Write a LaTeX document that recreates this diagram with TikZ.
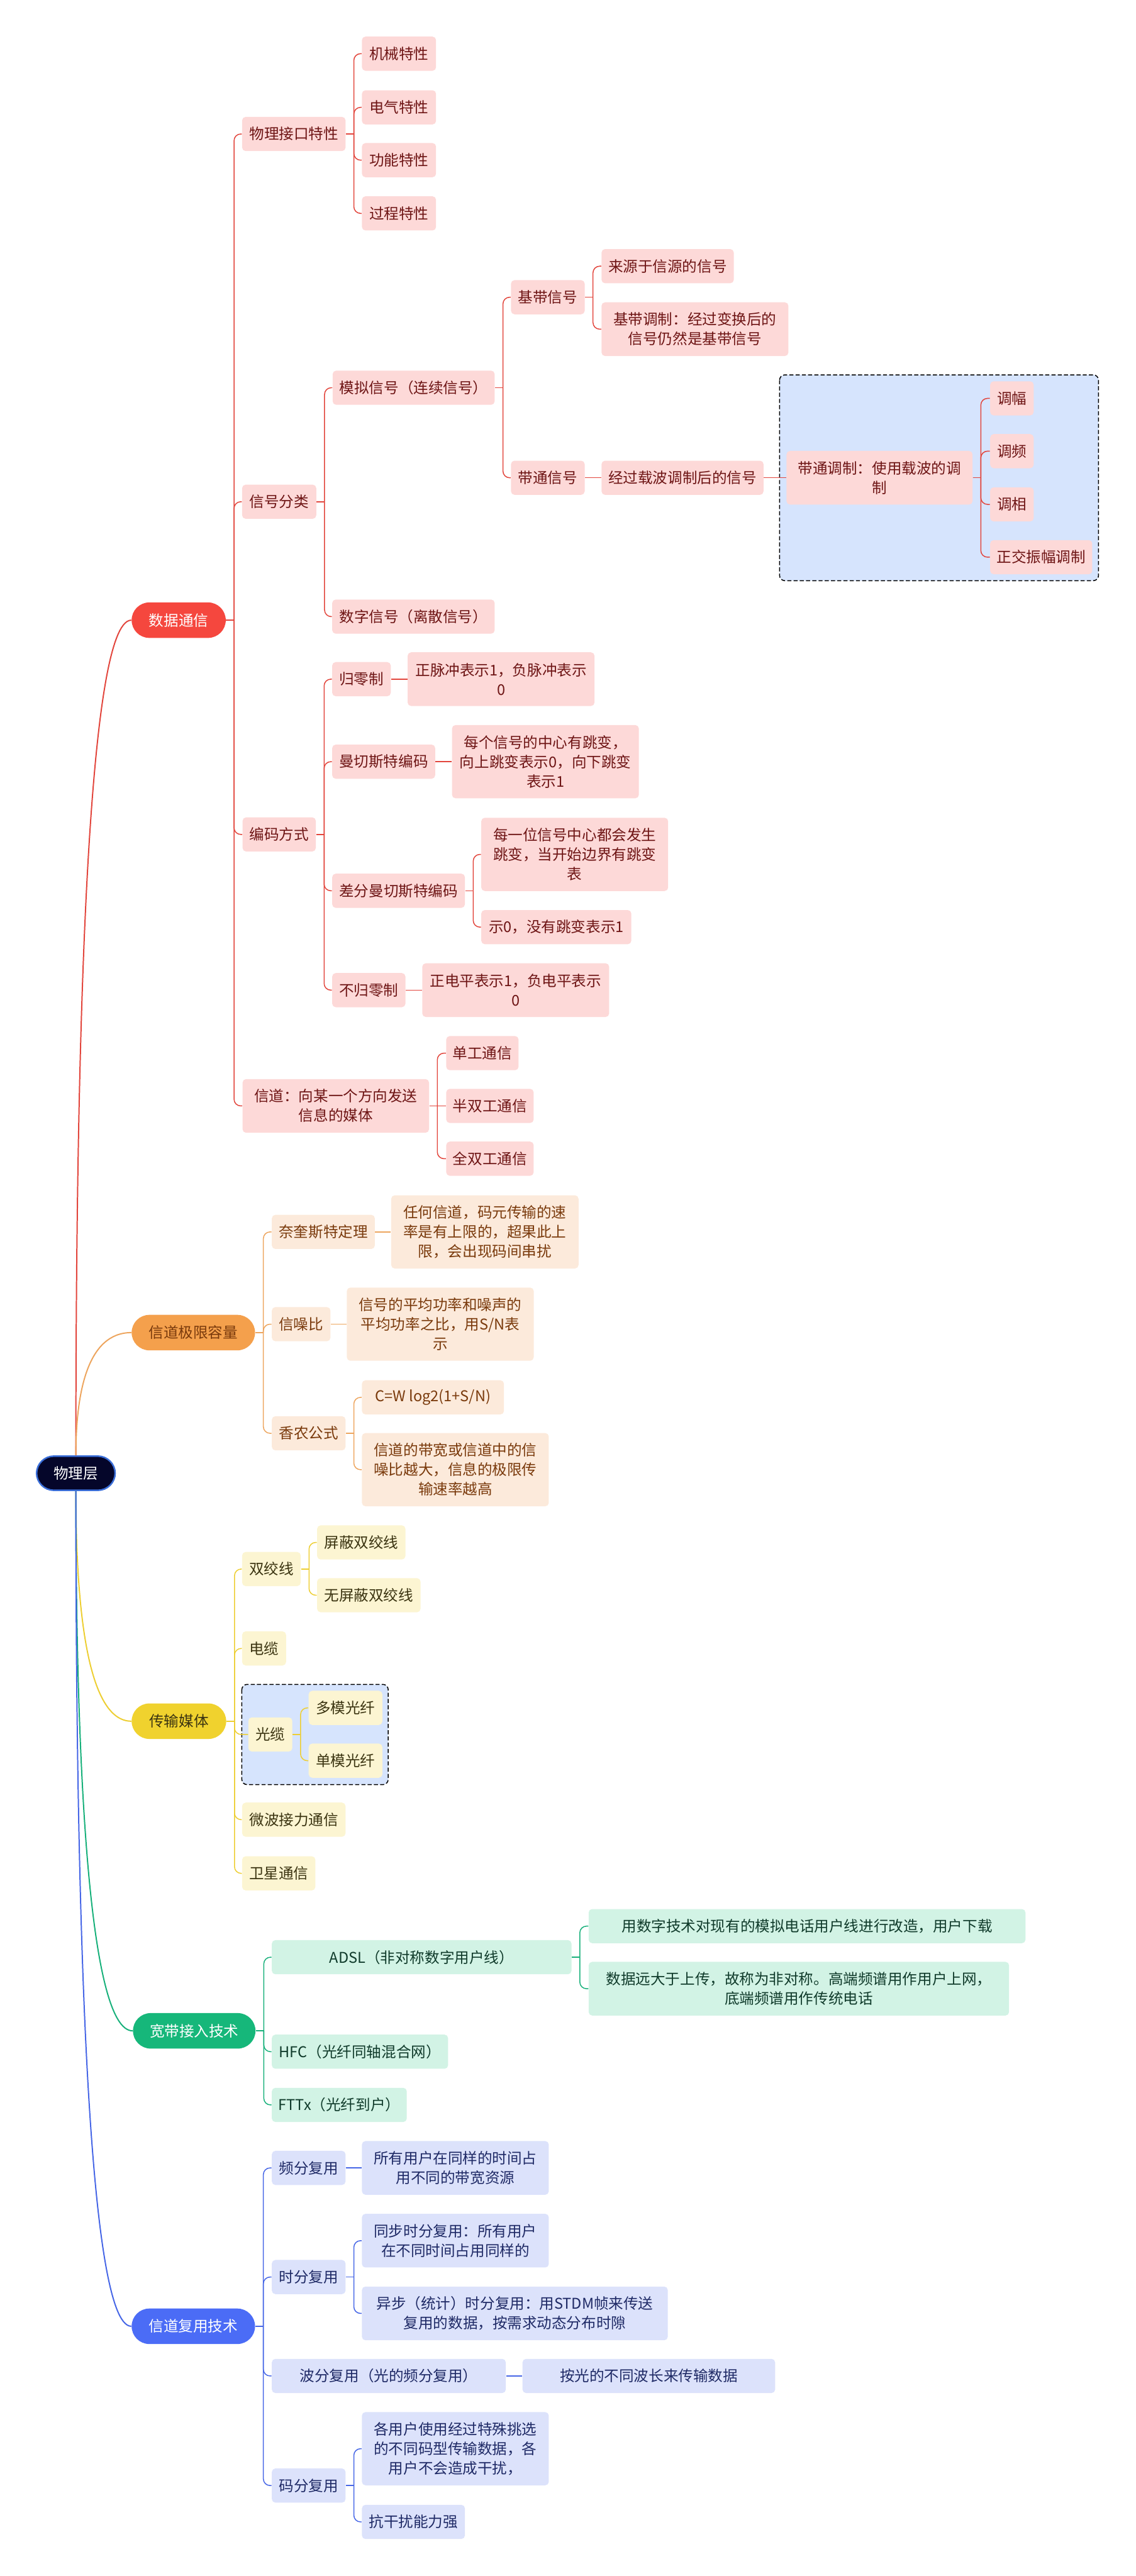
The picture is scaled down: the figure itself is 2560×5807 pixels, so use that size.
\documentclass[tikz,border=0pt]{standalone}
\usepackage{fontspec}
\setmainfont{Noto Sans CJK SC}
\usepackage{xcolor}
\usepackage{tikz}
\usetikzlibrary{positioning,calc}

\definecolor{cRedFill}{HTML}{FDD9D8}
\definecolor{cRedText}{HTML}{6E1515}
\definecolor{cRedLine}{HTML}{E2453C}
\definecolor{cRedMain}{HTML}{F5473E}
\definecolor{cOrgFill}{HTML}{FCEADB}
\definecolor{cOrgText}{HTML}{7A3A0C}
\definecolor{cOrgLine}{HTML}{EDA55E}
\definecolor{cOrgMain}{HTML}{F4A04C}
\definecolor{cYelFill}{HTML}{FCF5D2}
\definecolor{cYelText}{HTML}{3B3411}
\definecolor{cYelLine}{HTML}{EDCE32}
\definecolor{cYelMain}{HTML}{F0D22E}
\definecolor{cGrnFill}{HTML}{D2F3E5}
\definecolor{cGrnText}{HTML}{103B2B}
\definecolor{cGrnLine}{HTML}{17B07A}
\definecolor{cGrnMain}{HTML}{16B77A}
\definecolor{cBluFill}{HTML}{DCE2FB}
\definecolor{cBluText}{HTML}{1F2A66}
\definecolor{cBluLine}{HTML}{4666E6}
\definecolor{cBluMain}{HTML}{4B6CF6}
\definecolor{cRootFill}{HTML}{05062A}
\definecolor{cRootLine}{HTML}{3A6ED8}
\definecolor{cBoxFill}{HTML}{D6E4FD}

\begin{document}
\begin{tikzpicture}[x=0.01cm,y=-0.01cm,font=\fontsize{9.5}{12.5}\selectfont]
  \tikzstyle{leaf}=[rounded corners=0.08cm,align=center,anchor=west,minimum height=0.77cm,inner sep=0.1cm]
  \tikzstyle{two}=[minimum height=1.21cm]
  \tikzstyle{three}=[minimum height=1.65cm]
  \tikzstyle{redleaf}=[leaf,fill=cRedFill,text=cRedText]
  \tikzstyle{orgleaf}=[leaf,fill=cOrgFill,text=cOrgText]
  \tikzstyle{yelleaf}=[leaf,fill=cYelFill,text=cYelText]
  \tikzstyle{grnleaf}=[leaf,fill=cGrnFill,text=cGrnText]
  \tikzstyle{bluleaf}=[leaf,fill=cBluFill,text=cBluText]
  \tikzstyle{main}=[rounded corners=0.4cm,align=center,anchor=west,minimum height=0.8cm]
  \tikzstyle{rootnode}=[rounded corners=0.39cm,fill=cRootFill,draw=cRootLine,line width=1pt,text=white,minimum width=1.77cm,minimum height=0.77cm]
  \tikzstyle{link}=[line width=0.6pt,rounded corners=0.15cm]
  \tikzstyle{dbox}=[draw=black,fill=cBoxFill,line width=0.6pt,dash pattern=on 2.6pt off 1.4pt,rounded corners=0.12cm]
  \useasboundingbox (0,0) rectangle (2560,5807);

  % dashed groups
  \draw[dbox] (1757,845) rectangle (2476,1309);
  \draw[dbox] (545,3797) rectangle (875,4023);

  \node[rootnode] (root) at (171,3321) {物理层};

  % 数据通信
  \node[main,fill=cRedMain,text=white,minimum width=2.12cm] (datacomm) at (296,1398) {数据通信};
  \node[redleaf,minimum width=2.33cm] (phyif) at (545,302) {物理接口特性};
  \node[redleaf,minimum width=1.67cm] (mech) at (815,121) {机械特性};
  \node[redleaf,minimum width=1.67cm] (elec) at (815,242) {电气特性};
  \node[redleaf,minimum width=1.67cm] (func) at (815,361) {功能特性};
  \node[redleaf,minimum width=1.67cm] (proc) at (815,481) {过程特性};
  \node[redleaf,minimum width=1.67cm] (sigcls) at (545,1131) {信号分类};
  \node[redleaf,minimum width=3.65cm] (analog) at (749,874) {模拟信号（连续信号）};
  \node[redleaf,minimum width=1.66cm] (base) at (1151,670) {基带信号};
  \node[redleaf,minimum width=2.98cm] (basesrc) at (1355,600) {来源于信源的信号};
  \node[redleaf,two,minimum width=4.21cm] (basemod) at (1355,742) {基带调制：经过变换后的\\信号仍然是基带信号};
  \node[redleaf,minimum width=1.66cm] (band) at (1151,1077) {带通信号};
  \node[redleaf,minimum width=3.65cm] (carrier) at (1355,1077) {经过载波调制后的信号};
  \node[redleaf,two,minimum width=4.19cm] (bandmod) at (1772,1077) {带通调制：使用载波的调\\制};
  \node[redleaf,minimum width=0.98cm] (am) at (2231,898) {调幅};
  \node[redleaf,minimum width=0.98cm] (fm) at (2231,1017) {调频};
  \node[redleaf,minimum width=0.98cm] (pm) at (2231,1137) {调相};
  \node[redleaf,minimum width=2.30cm] (qam) at (2231,1256) {正交振幅调制};
  \node[redleaf,minimum width=3.66cm] (digital) at (748,1390) {数字信号（离散信号）};
  \node[redleaf,minimum width=1.65cm] (coding) at (546,1881) {编码方式};
  \node[redleaf,minimum width=1.32cm] (rz) at (748,1531) {归零制};
  \node[redleaf,two,minimum width=4.21cm] (rzdesc) at (918,1531) {正脉冲表示1，负脉冲表示\\0};
  \node[redleaf,minimum width=2.32cm] (manch) at (748,1717) {曼切斯特编码};
  \node[redleaf,three,minimum width=4.21cm] (manchdesc) at (1018,1717) {每个信号的中心有跳变，\\向上跳变表示0，向下跳变\\表示1};
  \node[redleaf,minimum width=2.99cm] (dmanch) at (748,2008) {差分曼切斯特编码};
  \node[redleaf,three,minimum width=4.21cm] (dmancha) at (1084,1926) {每一位信号中心都会发生\\跳变，当开始边界有跳变\\表};
  \node[redleaf,minimum width=3.38cm] (dmanchb) at (1084,2090) {示0，没有跳变表示1};
  \node[redleaf,minimum width=1.65cm] (nrz) at (748,2232) {不归零制};
  \node[redleaf,two,minimum width=4.21cm] (nrzdesc) at (951,2232) {正电平表示1，负电平表示\\0};
  \node[redleaf,two,minimum width=4.20cm] (channel) at (546,2493) {信道：向某一个方向发送\\信息的媒体};
  \node[redleaf,minimum width=1.63cm] (simplex) at (1005,2374) {单工通信};
  \node[redleaf,minimum width=1.97cm] (halfdup) at (1005,2493) {半双工通信};
  \node[redleaf,minimum width=1.97cm] (fulldup) at (1005,2612) {全双工通信};

  % 信道极限容量
  \node[main,fill=cOrgMain,text=cOrgText,minimum width=2.78cm] (chcap) at (296,3004) {信道极限容量};
  \node[orgleaf,minimum width=2.32cm] (nyquist) at (612,2777) {奈奎斯特定理};
  \node[orgleaf,three,minimum width=4.22cm] (nyqdesc) at (881,2777) {任何信道，码元传输的速\\率是有上限的，超果此上\\限，会出现码间串扰};
  \node[orgleaf,minimum width=1.32cm] (snr) at (612,2985) {信噪比};
  \node[orgleaf,three,minimum width=4.21cm] (snrdesc) at (781,2985) {信号的平均功率和噪声的\\平均功率之比，用S/N表\\示};
  \node[orgleaf,minimum width=1.66cm] (shannon) at (612,3231) {香农公式};
  \node[orgleaf,minimum width=3.20cm] (formula) at (815,3150) {C=W log2(1+S/N)};
  \node[orgleaf,three,minimum width=4.21cm] (shandesc) at (815,3313) {信道的带宽或信道中的信\\噪比越大，信息的极限传\\输速率越高};

  % 传输媒体
  \node[main,fill=cYelMain,text=cYelText,minimum width=2.13cm] (media) at (296,3880) {传输媒体};
  \node[yelleaf,minimum width=1.32cm] (twisted) at (545,3537) {双绞线};
  \node[yelleaf,minimum width=1.99cm] (stp) at (714,3477) {屏蔽双绞线};
  \node[yelleaf,minimum width=2.33cm] (utp) at (714,3596) {无屏蔽双绞线};
  \node[yelleaf,minimum width=0.99cm] (coax) at (545,3716) {电缆};
  \node[yelleaf,minimum width=0.99cm] (fiber) at (559,3910) {光缆};
  \node[yelleaf,minimum width=1.66cm] (mmf) at (695,3850) {多模光纤};
  \node[yelleaf,minimum width=1.66cm] (smf) at (695,3969) {单模光纤};
  \node[yelleaf,minimum width=2.33cm] (microwave) at (545,4102) {微波接力通信};
  \node[yelleaf,minimum width=1.65cm] (satellite) at (545,4223) {卫星通信};

  % 宽带接入技术
  \node[main,fill=cGrnMain,text=white,minimum width=2.76cm] (broadband) at (299,4578) {宽带接入技术};
  \node[grnleaf,minimum width=6.75cm] (adsl) at (612,4412) {ADSL（非对称数字用户线）};
  \node[grnleaf,minimum width=9.84cm] (adsla) at (1326,4342) {用数字技术对现有的模拟电话用户线进行改造，用户下载};
  \node[grnleaf,two,minimum width=9.47cm] (adslb) at (1326,4483) {数据远大于上传，故称为非对称。高端频谱用作用户上网，\\底端频谱用作传统电话};
  \node[grnleaf,minimum width=3.97cm] (hfc) at (612,4625) {HFC（光纤同轴混合网）};
  \node[grnleaf,minimum width=3.04cm] (fttx) at (612,4745) {FTTx（光纤到户）};

  % 信道复用技术
  \node[main,fill=cBluMain,text=white,minimum width=2.78cm] (mux) at (296,5244) {信道复用技术};
  \node[bluleaf,minimum width=1.66cm] (fdm) at (612,4887) {频分复用};
  \node[bluleaf,two,minimum width=4.21cm] (fdmdesc) at (815,4887) {所有用户在同样的时间占\\用不同的带宽资源};
  \node[bluleaf,minimum width=1.66cm] (tdm) at (612,5133) {时分复用};
  \node[bluleaf,two,minimum width=4.21cm] (stdm) at (815,5051) {同步时分复用：所有用户\\在不同时间占用同样的};
  \node[bluleaf,two,minimum width=6.89cm] (atdm) at (815,5215) {异步（统计）时分复用：用STDM帧来传送\\复用的数据，按需求动态分布时隙};
  \node[bluleaf,minimum width=5.27cm] (wdm) at (612,5356) {波分复用（光的频分复用）};
  \node[bluleaf,minimum width=5.69cm] (wdmdesc) at (1177,5356) {按光的不同波长来传输数据};
  \node[bluleaf,minimum width=1.66cm] (cdm) at (612,5603) {码分复用};
  \node[bluleaf,three,minimum width=4.21cm] (cdma) at (815,5520) {各用户使用经过特殊挑选\\的不同码型传输数据，各\\用户不会造成干扰，};
  \node[bluleaf,minimum width=2.32cm] (cdmb) at (815,5685) {抗干扰能力强};

  % root to main topics
  \foreach \a/\n/\c/\h in {north/datacomm/cRedLine/-942,north/chcap/cOrgLine/-139,south/media/cYelLine/260,south/broadband/cGrnLine/608,south/mux/cBluLine/942}
    \draw[draw=\c,line width=0.8pt] (root.\a) .. controls +(0,\h) and +(-100,0) .. (\n.west);

  % straight links (child level with parent)
  \foreach \p/\k in {band/carrier,carrier/bandmod,rz/rzdesc,manch/manchdesc,nrz/nrzdesc,channel/halfdup}
    \draw[link,draw=cRedLine] (\p.east) -- (\k.west);
  \foreach \p/\k in {nyquist/nyqdesc,snr/snrdesc}
    \draw[link,draw=cOrgLine] (\p.east) -- (\k.west);
  \foreach \p/\k in {fdm/fdmdesc,wdm/wdmdesc}
    \draw[link,draw=cBluLine] (\p.east) -- (\k.west);

  % bent links
  \foreach \p/\kids in {datacomm/{phyif,sigcls,coding,channel},phyif/{mech,elec,func,proc},sigcls/{analog,digital},analog/{base,band},base/{basesrc,basemod},bandmod/{am,fm,pm,qam},coding/{rz,manch,dmanch,nrz},dmanch/{dmancha,dmanchb},channel/{simplex,fulldup}}
    \foreach \k in \kids {
      \draw[link,draw=cRedLine] (\p.east) -- ([xshift=0.18cm]\p.east);
      \draw[link,draw=cRedLine] ([xshift=0.18cm]\p.east) |- (\k.west);
    }
  \foreach \p/\kids in {chcap/{nyquist,snr,shannon},shannon/{formula,shandesc}}
    \foreach \k in \kids {
      \draw[link,draw=cOrgLine] (\p.east) -- ([xshift=0.18cm]\p.east);
      \draw[link,draw=cOrgLine] ([xshift=0.18cm]\p.east) |- (\k.west);
    }
  \foreach \p/\kids in {media/{twisted,coax,fiber,microwave,satellite},twisted/{stp,utp},fiber/{mmf,smf}}
    \foreach \k in \kids {
      \draw[link,draw=cYelLine] (\p.east) -- ([xshift=0.18cm]\p.east);
      \draw[link,draw=cYelLine] ([xshift=0.18cm]\p.east) |- (\k.west);
    }
  \foreach \p/\kids in {broadband/{adsl,hfc,fttx},adsl/{adsla,adslb}}
    \foreach \k in \kids {
      \draw[link,draw=cGrnLine] (\p.east) -- ([xshift=0.18cm]\p.east);
      \draw[link,draw=cGrnLine] ([xshift=0.18cm]\p.east) |- (\k.west);
    }
  \foreach \p/\kids in {mux/{fdm,tdm,wdm,cdm},tdm/{stdm,atdm},cdm/{cdma,cdmb}}
    \foreach \k in \kids {
      \draw[link,draw=cBluLine] (\p.east) -- ([xshift=0.18cm]\p.east);
      \draw[link,draw=cBluLine] ([xshift=0.18cm]\p.east) |- (\k.west);
    }
\end{tikzpicture}
\end{document}
